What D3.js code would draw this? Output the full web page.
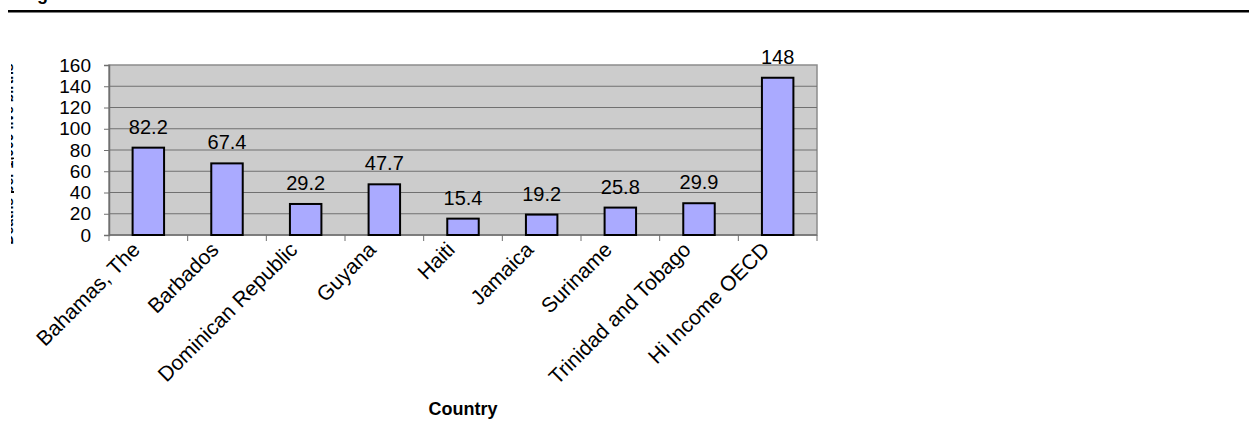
<!DOCTYPE html>
<html>
<head>
<meta charset="utf-8">
<script src="https://cdn.jsdelivr.net/npm/d3@7"></script>
<style>
  html, body { margin: 0; padding: 0; background: #fff; }
  svg { display: block; }
  text { font-family: "Liberation Sans", Arial, sans-serif; }
</style>
</head>
<body>
<svg id="chart" width="1249" height="425"></svg>
<script>
// Country names along the category axis
const countries = [
  "Bahamas, The", "Barbados", "Dominican Republic", "Guyana", "Haiti",
  "Jamaica", "Suriname", "Trinidad and Tobago", "Hi Income OECD"
];
// Value per country
const values = [82.2, 67.4, 29.2, 47.7, 15.4, 19.2, 25.8, 29.9, 148];
// Value-axis ticks
const yTicks = [0, 20, 40, 60, 80, 100, 120, 140, 160];
const valueLabels = ["82.2", "67.4", "29.2", "47.7", "15.4", "19.2", "25.8", "29.9", "148"];

const svg = d3.select("#chart");
const plot = { left: 109, right: 817, top: 65, bottom: 235 };

const x = d3.scaleBand().domain(countries).range([plot.left, plot.right]).paddingInner(0).paddingOuter(0);
const y = d3.scaleLinear().domain([0, 160]).range([plot.bottom, plot.top]);

// Heading rule, with the foot of the heading line showing above it
svg.append("text")
  .attr("x", 21).attr("y", 0)
  .attr("font-family", "Liberation Serif, Times New Roman, serif")
  .attr("font-weight", "bold").attr("font-size", 18)
  .text("Figure");
svg.append("rect").attr("x", 8).attr("y", 10).attr("width", 1241).attr("height", 2.5).attr("fill", "#000");

// Plot background
svg.append("rect")
  .attr("x", plot.left).attr("y", plot.top)
  .attr("width", plot.right - plot.left).attr("height", plot.bottom - plot.top)
  .attr("fill", "#cccccc").attr("stroke", "#8c8c8c").attr("stroke-width", 1.5);

// Horizontal gridlines
svg.append("g").selectAll("line").data(yTicks.filter(d => d > 0 && d < 160)).join("line")
  .attr("x1", plot.left).attr("x2", plot.right)
  .attr("y1", d => y(d)).attr("y2", d => y(d))
  .attr("stroke", "#707070").attr("stroke-width", 1);

// Value axis
const yAxis = svg.append("g").attr("transform", `translate(${plot.left},0)`)
  .call(d3.axisLeft(y).tickValues(yTicks).tickSize(5).tickPadding(13));
yAxis.select(".domain").attr("stroke", "#707070").attr("stroke-width", 1.5);
yAxis.selectAll(".tick line").attr("stroke", "#707070");
yAxis.selectAll(".tick text").attr("font-size", 19).attr("fill", "#000")
  .attr("font-family", "Liberation Sans, Arial, sans-serif");

// Category axis with ticks between categories
const boundaries = countries.map(c => x(c)).concat([plot.right]);
svg.append("line").attr("x1", plot.left).attr("x2", plot.right)
  .attr("y1", plot.bottom).attr("y2", plot.bottom)
  .attr("stroke", "#707070").attr("stroke-width", 1.5);
svg.append("g").selectAll("line").data(boundaries).join("line")
  .attr("x1", d => d).attr("x2", d => d)
  .attr("y1", plot.bottom).attr("y2", plot.bottom + 6)
  .attr("stroke", "#707070").attr("stroke-width", 1);

// Bars
const barW = x.bandwidth() * 0.4;
svg.append("g").selectAll("rect").data(values).join("rect")
  .attr("x", (d, i) => x(countries[i]) + x.bandwidth() / 2 - barW / 2)
  .attr("y", d => y(d))
  .attr("width", barW)
  .attr("height", d => y(0) - y(d))
  .attr("fill", "#aaaaff").attr("stroke", "#000").attr("stroke-width", 2);

// Value labels above bars
svg.append("g").selectAll("text").data(values).join("text")
  .attr("x", (d, i) => x(countries[i]) + x.bandwidth() / 2)
  .attr("y", d => y(d) - 14)
  .attr("text-anchor", "middle").attr("font-size", 20).attr("fill", "#000")
  .text((d, i) => valueLabels[i]);

// Rotated category labels
svg.append("g").selectAll("text").data(countries).join("text")
  .attr("transform", d => `translate(${x(d) + x.bandwidth() / 2 - 7},${plot.bottom + 16}) rotate(-45)`)
  .attr("text-anchor", "end").attr("font-size", 21).attr("fill", "#000")
  .text(d => d);

// Axis titles
svg.append("text")
  .attr("x", (plot.left + plot.right) / 2).attr("y", 415)
  .attr("text-anchor", "middle").attr("font-weight", "bold").attr("font-size", 18)
  .text("Country");

// Value-axis title, almost entirely cut off by the left page margin
svg.append("defs").append("clipPath").attr("id", "ytitle-clip")
  .append("rect").attr("x", 11).attr("y", 0).attr("width", 3).attr("height", 425);
svg.append("g").attr("clip-path", "url(#ytitle-clip)")
  .append("text")
  .attr("transform", `translate(12.5,${(plot.top + plot.bottom) / 2 + 4}) rotate(-90)`)
  .attr("text-anchor", "middle").attr("font-weight", "bold").attr("font-size", 14)
  .text("Deaths per 1,000 live births");
</script>
</body>
</html>
